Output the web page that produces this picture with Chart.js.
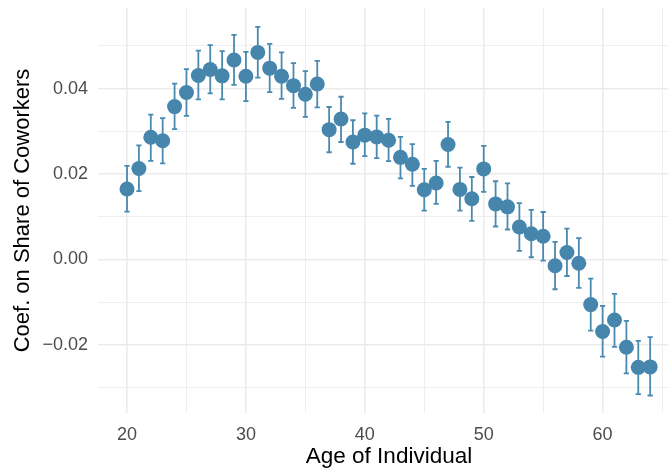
<!DOCTYPE html>
<html><head><meta charset="utf-8">
<script src="https://cdn.jsdelivr.net/npm/chart.js@4.4.0/dist/chart.umd.min.js"></script>
<style>html,body{margin:0;padding:0;background:#fff}</style>
</head><body>
<canvas id="c" width="668" height="471"></canvas>
<script>
const ages = [20,21,22,23,24,25,26,27,28,29,30,31,32,33,34,35,36,37,38,39,40,41,42,43,44,45,46,47,48,49,50,51,52,53,54,55,56,57,58,59,60,61,62,63,64];
const coef = [0.0165,0.0213,0.0286,0.0278,0.0358,0.0391,0.0431,0.0445,0.0430,0.0467,0.0429,0.0485,0.0448,0.0429,0.0407,0.0387,0.0411,0.0304,0.0329,0.0275,0.0291,0.0287,0.0279,0.0239,0.0223,0.0163,0.0179,0.0269,0.0164,0.0142,0.0212,0.0130,0.0123,0.0076,0.0060,0.0054,-0.0015,0.0016,-0.0009,-0.0106,-0.0169,-0.0142,-0.0206,-0.0253,-0.0252];
const lower = [0.0112,0.0160,0.0231,0.0225,0.0305,0.0336,0.0375,0.0389,0.0375,0.0409,0.0371,0.0426,0.0392,0.0376,0.0355,0.0334,0.0356,0.0251,0.0275,0.0224,0.0242,0.0237,0.0230,0.0190,0.0172,0.0114,0.0130,0.0217,0.0114,0.0090,0.0158,0.0077,0.0070,0.0020,0.0005,-0.0003,-0.0070,-0.0039,-0.0067,-0.0167,-0.0228,-0.0205,-0.0267,-0.0316,-0.0319];
const upper = [0.0219,0.0267,0.0339,0.0331,0.0412,0.0446,0.0489,0.0502,0.0488,0.0526,0.0486,0.0545,0.0505,0.0485,0.0460,0.0441,0.0465,0.0357,0.0381,0.0326,0.0342,0.0337,0.0329,0.0287,0.0270,0.0212,0.0231,0.0322,0.0215,0.0193,0.0266,0.0183,0.0178,0.0132,0.0116,0.0111,0.0041,0.0072,0.0050,-0.0045,-0.0109,-0.0081,-0.0144,-0.0191,-0.0182];
const xTicks = [20,25,30,35,40,45,50,55,60,65];
const xLabels = [20,30,40,50,60];
const yTicks = [-0.03,-0.02,-0.01,0,0.01,0.02,0.03,0.04,0.05];
const yLabels = [-0.02,0,0.02,0.04];
const xTitle = 'Age of Individual';
const yTitle = 'Coef. on Share of Coworkers';

const pointColor = '#4686AD';
const barColor = '#4A89B0';
const FONT = '"Liberation Sans", Arial, sans-serif';
const isIn = (v, arr) => arr.some(a => Math.abs(a - v) < 1e-9);

const errorBars = {
  id: 'errorBars',
  beforeDatasetsDraw(chart) {
    const {ctx, scales: {x, y}} = chart;
    ctx.save();
    ctx.strokeStyle = barColor;
    ctx.lineWidth = 1.8;
    ages.forEach((a, i) => {
      const px = x.getPixelForValue(a);
      const pl = x.getPixelForValue(a - 0.22);
      const pr = x.getPixelForValue(a + 0.22);
      const pt = y.getPixelForValue(upper[i]);
      const pb = y.getPixelForValue(lower[i]);
      ctx.beginPath();
      ctx.moveTo(px, pt); ctx.lineTo(px, pb);
      ctx.moveTo(pl, pt); ctx.lineTo(pr, pt);
      ctx.moveTo(pl, pb); ctx.lineTo(pr, pb);
      ctx.stroke();
    });
    ctx.restore();
  }
};

// x-axis title centred on the full (partly cropped) panel, as in the original
const xAxisTitle = {
  id: 'xAxisTitle',
  afterDraw(chart) {
    const {ctx, chartArea} = chart;
    ctx.save();
    ctx.fillStyle = '#000';
    ctx.font = '22.5px ' + FONT;
    ctx.textAlign = 'center';
    ctx.textBaseline = 'alphabetic';
    ctx.fillText(xTitle, (chartArea.left + 680) / 2, 463);
    ctx.restore();
  }
};

new Chart(document.getElementById('c'), {
  type: 'scatter',
  data: {
    datasets: [{
      data: ages.map((a, i) => ({x: a, y: coef[i]})),
      backgroundColor: pointColor,
      borderWidth: 0,
      pointRadius: 7.5,
      pointHoverRadius: 7.5,
      clip: false
    }]
  },
  options: {
    responsive: false,
    animation: false,
    events: [],
    layout: {autoPadding: false, padding: {top: 8, right: 0, bottom: 0, left: 0}},
    plugins: {legend: {display: false}, tooltip: {enabled: false}},
    scales: {
      x: {
        type: 'linear',
        min: 17.56, max: 65.5,
        afterBuildTicks: s => { s.ticks = xTicks.map(v => ({value: v})); },
        afterFit: s => { s.height = 58; s.paddingLeft = 0; s.paddingRight = 0; },
        border: {display: false},
        grid: {
          drawTicks: false,
          color: '#EBEBEB',
          lineWidth: c => isIn(c.tick.value, xLabels) ? 1.6 : 0.8
        },
        ticks: {
          autoSkip: false, maxRotation: 0, padding: 11,
          color: '#4D4D4D',
          font: {family: FONT, size: 18},
          callback: v => isIn(v, xLabels) ? String(v) : ''
        },
        title: {display: false}
      },
      y: {
        type: 'linear',
        min: -0.036, max: 0.0589,
        afterBuildTicks: s => { s.ticks = yTicks.map(v => ({value: v})); },
        afterFit: s => { s.width = 98; s.paddingTop = 0; s.paddingBottom = 0; },
        border: {display: false},
        grid: {
          drawTicks: false,
          color: '#EBEBEB',
          lineWidth: c => isIn(c.tick.value, yLabels) ? 1.6 : 0.8
        },
        ticks: {
          autoSkip: false, padding: 10,
          color: '#4D4D4D',
          font: {family: FONT, size: 18},
          callback: v => isIn(v, yLabels) ? v.toFixed(2).replace('-', '\u2212') : ''
        },
        title: {
          display: true, text: yTitle, color: '#000',
          font: {family: FONT, size: 22},
          padding: {top: 10, bottom: 0}
        }
      }
    }
  },
  plugins: [errorBars, xAxisTitle]
});
</script>
</body></html>
